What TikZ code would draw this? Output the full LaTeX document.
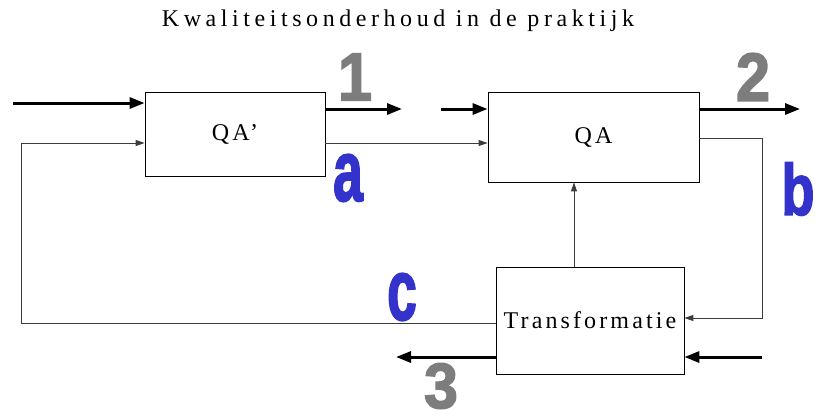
\documentclass[tikz,border=0pt]{standalone}
\usepackage{fontspec}
\setmainfont{Liberation Serif}
\newfontfamily\titlefont{Liberation Serif}[LetterSpace=19]
\newfontfamily\boxfont{Liberation Serif}[LetterSpace=13]
\newfontfamily\markfont{Liberation Sans Bold}[FakeBold=2.5]
\usepackage{tikz}
\usetikzlibrary{arrows.meta,positioning,calc}
\usepackage{xcolor}
\definecolor{markgray}{RGB}{125,125,125}
\definecolor{markblue}{RGB}{51,51,204}
\definecolor{linegray}{RGB}{60,60,60}
\tikzset{
  blok/.style={draw=black,line width=0.8pt,fill=white,inner sep=0pt,align=center,
    font=\boxfont\fontsize{24}{26}\selectfont},
  thickflow/.style={-{Triangle[length=15pt,width=11pt]},line width=3pt,draw=black},
  thinflow/.style={-{Triangle[length=9pt,width=6pt]},line width=0.9pt,draw=linegray},
  titletext/.style={font=\titlefont\fontsize{24}{26}\selectfont,inner sep=0pt},
  nummer/.style={font=\markfont\fontsize{68}{70}\selectfont,text=markgray,inner sep=0pt},
  letter/.style={font=\markfont\fontsize{86}{90}\selectfont,text=markblue,inner sep=0pt}
}
\begin{document}
\begin{tikzpicture}[x=1pt,y=-1pt]
  \useasboundingbox (0,0) rectangle (815,416);
  \node[titletext] (title) at (398,21) {Kwaliteitsonderhoud in de praktijk};
  \node[blok,minimum width=180pt,minimum height=84pt] (qap) at (235,134) {QA’};
  \node[blok,minimum width=211pt,minimum height=90pt] (qa) at (593.5,137) {QA};
  \node[blok,minimum width=188pt,minimum height=107pt] (trans) at (590,320.5) {Transformatie};
  \coordinate (in1) at (13,103);
  \coordinate (out1) at (402,109);
  \coordinate (in2) at (441,109);
  \coordinate (out2) at (800,109);
  \coordinate (in3) at (762,357);
  \coordinate (out3) at (396,357);
  \coordinate (cleft) at (21,143);
  \coordinate (bright) at (762,138);
  \draw[thickflow] (in1) -- (in1 -| qap.west);
  \draw[thickflow] (out1 -| qap.east) -- (out1);
  \draw[thickflow] (in2) -- (in2 -| qa.west);
  \draw[thickflow] (out2 -| qa.east) -- (out2);
  \draw[thickflow] (in3) -- (in3 -| trans.east);
  \draw[thickflow] (out3 -| trans.west) -- (out3);
  \draw[thinflow] (cleft -| qap.east) -- (cleft -| qa.west);
  \draw[thinflow] ([yshift=-2.5pt]trans.west) -| (cleft) -- (cleft -| qap.west);
  \draw[thinflow] (bright -| qa.east) -- (bright) |- ([yshift=2.5pt]trans.east);
  \draw[thinflow] ([xshift=-16pt]trans.north) -- ([xshift=-16pt]trans.north |- qa.south);
  \node[nummer] (n1) at (355,77) {\scalebox{0.9}[1]{1}};
  \node[nummer] (n2) at (753,77) {\scalebox{0.9}[1]{2}};
  \node[nummer,font=\markfont\fontsize{64}{66}\selectfont] (n3) at (441,386) {\scalebox{0.95}[1]{3}};
  \node[letter] (la) at (348,178) {\scalebox{0.62}[1]{a}};
  \node[letter,font=\markfont\fontsize{72}{76}\selectfont] (lb) at (798,189) {\scalebox{0.75}[1]{b}};
  \node[letter] (lc) at (402,297) {\scalebox{0.62}[1]{c}};
\end{tikzpicture}
\end{document}
